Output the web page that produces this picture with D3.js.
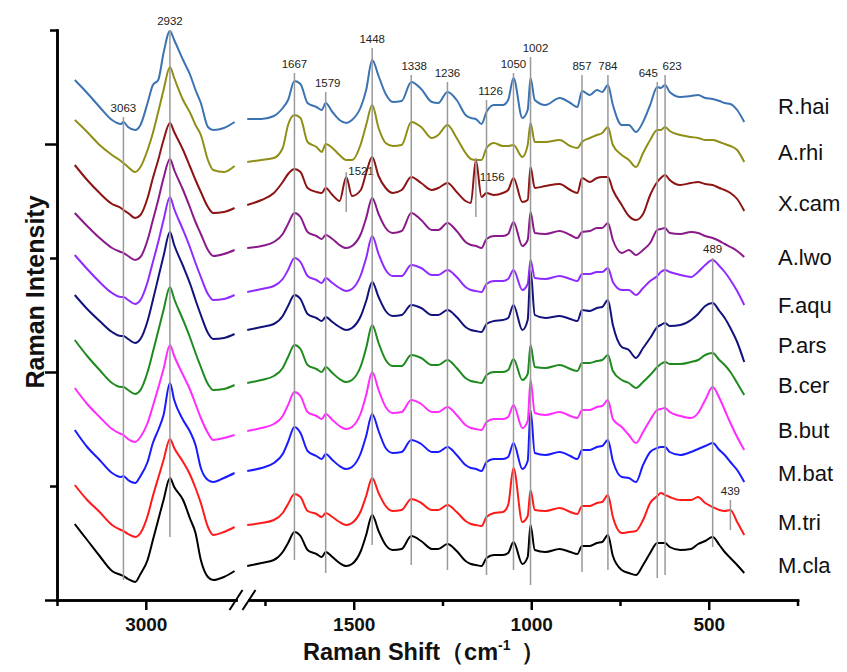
<!DOCTYPE html>
<html lang="en">
<head>
<meta charset="UTF-8">
<title>Raman spectra</title>
<style>
  html, body { margin: 0; padding: 0; background: #fff; }
  svg { display: block; font-family: Arial, "Liberation Sans", Helvetica, sans-serif; }
</style>
</head>
<body>
<svg id="chart"></svg>
<script src="https://cdn.jsdelivr.net/npm/d3@7/dist/d3.min.js"></script>
<script>
// sampled wavenumbers (cm-1) on each side of the axis break
const wavesHigh = [3200, 3165, 3130, 3095, 3070, 3063, 3050, 3030, 3015, 2995, 2980, 2965,
  2950, 2932, 2920, 2895, 2875, 2860, 2845, 2825, 2810, 2780, 2750];
const wavesLow = [1800, 1760, 1725, 1700, 1685, 1667, 1650, 1630, 1605, 1590, 1579, 1560,
  1540, 1521, 1505, 1480, 1465, 1448, 1430, 1410, 1390, 1365, 1338, 1310, 1280, 1262, 1236,
  1210, 1185, 1170, 1156, 1140, 1126, 1105, 1080, 1065, 1050, 1025, 1010, 1002, 990, 960,
  920, 890, 870, 857, 835, 815, 800, 784, 770, 745, 725, 705, 685, 665, 645, 635, 623, 610,
  580, 550, 530, 510, 489, 470, 455, 439, 420, 400];

const names = ['R.hai', 'A.rhi', 'X.cam', 'A.lwo', 'F.aqu', 'P.ars', 'B.cer', 'B.but', 'M.bat', 'M.tri', 'M.cla'];
const colors = ['#3b73b2', '#8f8f17', '#8c1414', '#8a1a8a', '#8f2bff', '#12127d', '#1f8a1f', '#ff2bff', '#1a1aff', '#ff1a1a', '#000000'];
// vertical offset of each spectrum (a.u.), spectra are stacked
const offsets = [481, 437, 395, 352, 308, 270, 217, 169, 129, 75, 34];

// intensities relative to the offset
const rHaiHigh = [39, 26, 12, -1, -5, -3, -8, -11, -6, 16, 34, 39, 66, 88, 79, 59, 44, 29, 16, -8, -11, -9, -3];
const aRhiHigh = [43, 31, 18, 8, 2, 0, -4, -9, -4, 13, 30, 51, 73, 96, 85, 63, 50, 38, 28, 3, -7, -9, -3];
const xCamHigh = [40, 25, 12, 1, -3, -5, -8, -13, -10, 7, 27, 45, 65, 82, 73, 55, 38, 25, 13, -2, -8, -7, -3];
const aLwoHigh = [35, 22, 10, 0, -4, -5, -8, -12, -9, 8, 28, 48, 70, 89, 78, 58, 40, 26, 14, -2, -8, -6, -2];
const fAquHigh = [37, 23, 10, -1, -5, -5, -8, -12, -8, 10, 30, 50, 72, 95, 83, 62, 44, 29, 15, -2, -8, -7, -3];
const pArsHigh = [35, 21, 9, -2, -6, -6, -9, -13, -9, 9, 30, 52, 74, 98, 85, 64, 46, 30, 15, -3, -9, -8, -4];
const bCerHigh = [43, 27, 13, 0, -4, -4, -7, -11, -7, 11, 31, 52, 73, 96, 84, 63, 45, 30, 16, -1, -7, -6, -2];
const bButHigh = [43, 27, 14, 2, -3, -4, -8, -11, -6, 8, 25, 43, 62, 86, 75, 56, 41, 27, 13, -2, -9, -7, -4];
const mBatHigh = [41, 24, 11, -2, -6, -5, -9, -12, -5, 9, 28, 41, 56, 88, 71, 51, 39, 26, 3, -9, -11, -7, -2];
const mTriHigh = [40, 25, 13, 0, -5, -6, -9, -12, -8, 9, 29, 47, 65, 86, 77, 63, 50, 37, 22, -2, -10, -7, -2];
const mClaHigh = [42, 26, 10, -5, -9, -10, -13, -16, -8, 6, 26, 46, 66, 88, 79, 66, 47, 33, 6, -11, -14, -11, -5];

const rHaiLow = [0, 0, 3, 11, 19, 38, 35, 16, 12, 9, 16, 7, -1, -4, -1, 12, 29, 59, 43, 25,
  17, 18, 37, 30, 17, 16, 27, 19, 4, 1, 0, -5, 7, 14, 14, 19, 41, 1, 9, 41,
  19, 14, 21, 16, 12, 28, 24, 29, 27, 34, 14, -6, -6, -13, -3, 14, 32, 31, 34, 27,
  22, 23, 24, 21, 20, 18, 16, 15, 9, -3];
const aRhiLow = [1, 3, 5, 15, 38, 48, 45, 21, 16, 11, 19, 15, 8, 3, 3, 19, 38, 58, 35, 20,
  17, 18, 41, 36, 25, 28, 38, 25, 10, 4, 3, 3, 15, 20, 17, 17, 18, 6, 18, 40,
  21, 21, 23, 17, 15, 21, 25, 28, 30, 36, 18, 8, 3, -4, 10, 23, 33, 33, 36, 32,
  28, 26, 25, 23, 23, 21, 19, 17, 13, 1];
const xCamLow = [0, 5, 12, 23, 31, 36, 33, 17, 13, 12, 17, 10, 4, 28, 9, 15, 32, 48, 29, 17,
  12, 15, 28, 22, 15, 17, 22, 13, 4, 2, 45, 8, 12, 10, 12, 15, 27, 3, 5, 38,
  17, 19, 21, 15, 12, 27, 23, 27, 28, 28, 15, 0, -11, -15, -9, 10, 23, 27, 30, 25,
  20, 22, 23, 21, 20, 17, 15, 12, 6, -6];
const aLwoLow = [0, 2, 6, 14, 24, 35, 31, 16, 12, 9, 13, 9, 3, 0, 2, 14, 30, 50, 34, 20,
  15, 17, 35, 28, 18, 18, 25, 17, 6, 3, 2, 0, 9, 12, 12, 14, 26, 2, 8, 36,
  15, 14, 17, 13, 10, 16, 17, 20, 20, 25, 8, -5, -2, -7, -2, 5, 18, 19, 20, 15,
  14, 16, 15, 12, 10, 7, 4, 1, -3, -9];
const fAquLow = [0, 3, 6, 13, 22, 34, 30, 16, 12, 9, 14, 9, 4, 1, 3, 17, 34, 56, 38, 22,
  16, 16, 27, 24, 17, 17, 22, 15, 5, 2, 1, 0, 8, 11, 11, 13, 22, 2, 8, 32,
  14, 13, 16, 13, 11, 18, 18, 20, 20, 24, 10, 2, 2, -3, 4, 11, 16, 20, 22, 20,
  17, 15, 20, 27, 32, 26, 20, 12, 1, -13];
const pArsLow = [0, 3, 6, 14, 24, 35, 31, 16, 12, 9, 13, 8, 3, 0, 2, 14, 29, 48, 33, 19,
  14, 15, 25, 22, 15, 15, 20, 13, 3, 0, -1, -2, 6, 9, 10, 12, 25, 0, 10, 60,
  15, 12, 14, 11, 9, 20, 19, 22, 23, 30, 5, -17, -20, -28, -18, -8, 3, 5, 7, 4,
  5, 10, 16, 24, 27, 19, 12, 2, -12, -32];
const bCerLow = [0, 3, 7, 15, 26, 38, 34, 18, 14, 11, 16, 10, 4, 1, 3, 17, 35, 58, 40, 23,
  17, 17, 28, 25, 18, 18, 23, 15, 5, 2, 1, 0, 8, 11, 11, 13, 24, 3, 9, 38,
  16, 15, 18, 14, 12, 20, 20, 22, 23, 28, 12, 3, 0, -5, 1, 8, 16, 19, 21, 19,
  19, 21, 23, 28, 30, 23, 18, 11, 0, -12];
const bButLow = [0, 3, 7, 15, 26, 39, 35, 19, 15, 12, 17, 11, 5, 2, 4, 18, 36, 59, 41, 24,
  18, 19, 31, 27, 19, 19, 24, 16, 6, 3, 2, 1, 9, 12, 12, 14, 26, 3, 10, 51,
  18, 16, 19, 15, 13, 21, 21, 24, 25, 31, 12, 4, -4, -12, -1, 11, 21, 22, 23, 19,
  15, 13, 18, 31, 44, 33, 21, 8, -6, -19];
const mBatLow = [0, 3, 8, 17, 29, 44, 38, 20, 15, 12, 17, 11, 5, 2, 4, 18, 35, 57, 40, 23,
  18, 19, 31, 27, 19, 19, 24, 16, 6, 3, 2, 0, 9, 12, 12, 14, 28, 2, 10, 61,
  18, 16, 19, 15, 12, 21, 21, 24, 25, 31, 10, -6, -7, -11, 6, 19, 23, 24, 24, 19,
  16, 19, 22, 25, 28, 21, 16, 9, 1, -11];
const mTriLow = [0, 2, 5, 12, 21, 31, 28, 14, 11, 8, 12, 8, 3, 0, 2, 14, 29, 47, 32, 19,
  14, 15, 26, 22, 15, 15, 20, 13, 4, 1, 0, -1, 8, 12, 13, 20, 57, 3, 9, 35,
  15, 14, 17, 13, 11, 19, 19, 22, 23, 30, 8, -8, -7, -6, 5, 22, 29, 32, 30, 28,
  25, 25, 28, 22, 18, 15, 14, 15, 3, -10];
const mClaLow = [0, 3, 6, 14, 23, 34, 30, 16, 12, 9, 14, 9, 3, 0, 2, 15, 31, 51, 35, 21,
  16, 17, 30, 25, 17, 17, 22, 15, 5, 2, 1, 0, 8, 11, 11, 13, 24, 2, 9, 41,
  16, 14, 17, 14, 12, 20, 20, 23, 24, 31, 10, -4, -7, -9, 1, 13, 23, 23, 23, 19,
  16, 17, 22, 25, 29, 21, 14, 8, 1, -7];

const highParts = [rHaiHigh, aRhiHigh, xCamHigh, aLwoHigh, fAquHigh, pArsHigh, bCerHigh, bButHigh, mBatHigh, mTriHigh, mClaHigh];
const lowParts = [rHaiLow, aRhiLow, xCamLow, aLwoLow, fAquLow, pArsLow, bCerLow, bButLow, mBatLow, mTriLow, mClaLow];

// assigned bands: wavenumber, and the span of the marker line (a.u.)
const peakWaves = [3063, 2932, 1667, 1579, 1521, 1448, 1338, 1236, 1156, 1126, 1050, 1002, 857, 784, 645, 623, 489, 439];
const peakTop = [483, 570, 527, 508, 428, 552, 525, 518, 442, 500, 527, 543, 525, 525, 518, 525, 342, 100];
const peakBottom = [20, 63, 40, 27, 388, 55, 35, 30, 383, 25, 30, 15, 28, 30, 22, 25, 53, 70];

// where the species names sit (a.u.)
const legendLevel = [494, 448, 397, 343, 295, 255, 215, 170, 127, 78, 35];

const xMajorHigh = [3000], xMinorHigh = [3250];
const xMajorLow = [1500, 1000, 500], xMinorLow = [1750, 1250, 750, 250];
const yMajor = [0, 228, 456], yMinor = [114, 342, 570];

const width = 847, height = 672;
const svg = d3.select('#chart').attr('width', width).attr('height', height);

const y = d3.scaleLinear().domain([0, 570]).range([600, 30]);
const xHigh = d3.scaleLinear().domain([3250, 2746]).range([57, 236]);
const xLow = d3.scaleLinear().domain([1795, 250]).range([249, 797.5]);

const lineHigh = d3.line().x(d => xHigh(d[0])).y(d => y(d[1])).curve(d3.curveMonotoneX);
const lineLow = d3.line().x(d => xLow(d[0])).y(d => y(d[1])).curve(d3.curveMonotoneX);

const series = names.map((name, i) => ({
  name,
  color: colors[i],
  high: wavesHigh.map((w, j) => [w, offsets[i] + highParts[i][j]]).filter(d => !isNaN(d[1])),
  low: wavesLow.map((w, j) => [w, offsets[i] + lowParts[i][j]]).filter(d => !isNaN(d[1]))
}));

// spectra
const spec = svg.append('g').selectAll('g').data(series).enter().append('g');
spec.append('path')
  .attr('d', d => lineHigh(d.high))
  .attr('fill', 'none').attr('stroke', d => d.color).attr('stroke-width', 2);
spec.append('path')
  .attr('d', d => lineLow(d.low))
  .attr('fill', 'none').attr('stroke', d => d.color).attr('stroke-width', 2);

// band markers
const labelNudge = {
  1579: { dx: 2 }, 1338: { dx: 3 }, 1126: { dx: 4 }, 1002: { dx: 5 },
  645: { dx: -9 }, 623: { dx: 7 },
  1521: { dx: 2, dy: 8.5, anchor: 'start' },
  1156: { dx: 4, dy: 28.5, anchor: 'start' }
};
const peaks = peakWaves.map((w, i) => ({ w, top: peakTop[i], bottom: peakBottom[i] }));
const px = d => (d.w > 2000 ? xHigh(d.w) : xLow(d.w));

const marks = svg.append('g').selectAll('g').data(peaks).enter().append('g');
marks.append('line')
  .attr('x1', px).attr('x2', px)
  .attr('y1', d => y(d.top)).attr('y2', d => y(d.bottom))
  .attr('stroke', '#9a9a9a').attr('stroke-width', 1.5);
marks.append('text')
  .attr('x', d => px(d) + ((labelNudge[d.w] || {}).dx || 0))
  .attr('y', d => y(d.top) - 5.5 + ((labelNudge[d.w] || {}).dy || 0))
  .attr('text-anchor', d => (labelNudge[d.w] || {}).anchor || 'middle')
  .attr('font-size', 11.5).attr('fill', '#222')
  .text(d => d.w);

// axes
function styleAxis(g) {
  g.select('.domain').attr('stroke', '#000').attr('stroke-width', 2.5).attr('stroke-linecap', 'square');
  g.selectAll('.tick line').attr('stroke', '#000').attr('stroke-width', 2.5);
  g.selectAll('.tick text').attr('fill', '#111').attr('font-size', 19).attr('font-weight', 'bold')
    .attr('font-family', 'Arial, "Liberation Sans", sans-serif');
}

svg.append('g').attr('transform', 'translate(0,600)')
  .call(d3.axisBottom(xHigh).tickValues(xMajorHigh).tickSize(10).tickSizeOuter(0).tickPadding(8).tickFormat(d3.format('d')))
  .call(styleAxis);
svg.append('g').attr('transform', 'translate(0,600)')
  .call(d3.axisBottom(xHigh).tickValues(xMinorHigh).tickSize(6).tickSizeOuter(0).tickFormat(''))
  .call(styleAxis);
svg.append('g').attr('transform', 'translate(0,600)')
  .call(d3.axisBottom(xLow).tickValues(xMajorLow).tickSize(10).tickSizeOuter(0).tickPadding(8).tickFormat(d3.format('d')))
  .call(styleAxis);
svg.append('g').attr('transform', 'translate(0,600)')
  .call(d3.axisBottom(xLow).tickValues(xMinorLow).tickSize(6).tickSizeOuter(0).tickFormat(''))
  .call(styleAxis);

svg.append('g').attr('transform', 'translate(57,0)')
  .call(d3.axisLeft(y).tickValues(yMajor).tickSize(12).tickSizeOuter(0).tickFormat(''))
  .call(styleAxis);
svg.append('g').attr('transform', 'translate(57,0)')
  .call(d3.axisLeft(y).tickValues(yMinor).tickSize(7).tickSizeOuter(0).tickFormat(''))
  .call(styleAxis);

// axis break marks
const breakEnds = [xHigh.range()[1], xLow.range()[0]];
svg.append('g').selectAll('line').data(breakEnds).enter().append('line')
  .attr('x1', d => d - 6.5).attr('y1', 610)
  .attr('x2', d => d + 6.5).attr('y2', 590)
  .attr('stroke', '#000').attr('stroke-width', 2);

// titles
const xTitle = svg.append('text')
  .attr('x', 303).attr('y', 660)
  .attr('text-anchor', 'start')
  .attr('font-size', 23.5).attr('font-weight', 'bold').attr('fill', '#111');
xTitle.append('tspan').text('Raman Shift');
xTitle.append('tspan').text('（');
xTitle.append('tspan').text('cm');
xTitle.append('tspan').attr('font-size', 14).attr('dy', -10).text('-1');
xTitle.append('tspan').attr('dx', 10).attr('dy', 10).text('）');

svg.append('text')
  .attr('transform', 'translate(44,292) rotate(-90)')
  .attr('text-anchor', 'middle')
  .attr('font-size', 25).attr('font-weight', 'bold').attr('fill', '#111')
  .text('Raman Intensity');

// species names
svg.append('g').selectAll('text').data(series).enter().append('text')
  .attr('x', 778)
  .attr('y', (d, i) => y(legendLevel[i]) + 8)
  .attr('font-size', 22).attr('fill', '#111')
  .text(d => d.name);
</script>
</body>
</html>
